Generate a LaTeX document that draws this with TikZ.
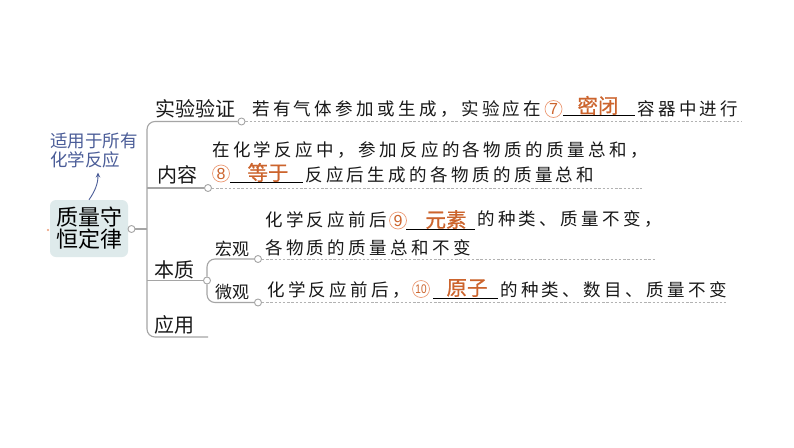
\documentclass[tikz,border=0pt]{standalone}
\usepackage{fontspec}
\setmainfont{Noto Sans CJK SC}
\newfontfamily\cjk{Noto Sans CJK SC}
\newfontfamily\ansfont[FakeBold=0.8]{Noto Sans CJK SC}
\newfontfamily\numfont{Liberation Sans}
\usetikzlibrary{arrows.meta}
\definecolor{linegray}{RGB}{165,165,165}
\definecolor{dashgray}{RGB}{178,178,178}
\definecolor{rootfill}{RGB}{222,234,235}
\definecolor{ans}{RGB}{204,100,45}
\definecolor{numring}{RGB}{236,155,118}
\definecolor{notecol}{RGB}{75,93,152}
\definecolor{txt}{RGB}{25,25,25}
\newlength\lspamt
\setlength\lspamt{3.4pt}
\ExplSyntaxOn
\NewDocumentCommand\lsp{m}{\tl_map_inline:nn{#1}{##1\hskip\lspamt}}
\ExplSyntaxOff
\tikzset{
  solidline/.style={draw=linegray, line width=1.1pt},
  dashline/.style={draw=dashgray, line width=0.9pt, dash pattern=on 2.4pt off 1.8pt},
  knob/.style={circle, draw=linegray, fill=white, line width=0.9pt, inner sep=0pt, minimum size=7pt},
  branchlabel/.style={inner sep=0pt, text=txt, font=\cjk\fontsize{20}{22}\selectfont},
  sublabel/.style={inner sep=0pt, text=txt, font=\cjk\fontsize{17}{20}\selectfont},
  body/.style={anchor=west, inner sep=0pt, text=txt, font=\cjk\fontsize{17.5}{20}\selectfont},
  numc/.style={circle, draw=numring, line width=0.7pt, inner sep=0pt, minimum size=17pt, text=ans, font=\numfont\fontsize{16}{16}\selectfont},
  answer/.style={inner sep=0pt, text=ans, font=\ansfont\fontsize{20.5}{22}\selectfont},
  blank/.style={draw=black, line width=0.9pt},
  rootbox/.style={rectangle, rounded corners=6pt, fill=rootfill, minimum width=78pt, minimum height=57pt, inner sep=0pt, align=center, text=black, font=\cjk\fontsize{22}{22}\selectfont},
  notetext/.style={inner sep=0pt, align=left, text=notecol, font=\cjk\fontsize{17.5}{19.5}\selectfont},
  notearrow/.style={draw=notecol, line width=0.9pt, -{Stealth[length=5pt,width=4.5pt]}},
}
\begin{document}
\begin{tikzpicture}[x=1pt,y=-1pt]
\useasboundingbox (0,0) rectangle (794,447);
\fill[white] (0,0) rectangle (794,447);

% root
\node[rootbox] (root) at (89,228.5) {质量守\\恒定律};
\fill[numring] (48,230) circle (1.1pt);
\node[notetext, anchor=west] (note) at (50,150.5) {适用于所有\\化学反应};
\coordinate (ntip) at (98,172.5);
\draw[notearrow] (root.north) .. controls (95,191) and (98,184) .. (ntip);

% knobs
\node[knob] (kroot) at (131.5,229) {};
\node[knob] (k1) at (241.5,121.5) {};
\node[knob] (k2) at (208,188) {};
\node[knob] (k3) at (207,280.5) {};
\node[knob] (k31) at (258,259) {};
\node[knob] (k32) at (258,302.5) {};

% trunk coordinates
\coordinate (tj) at (147,229);
\coordinate (ttop) at (147,121.5);
\coordinate (tbot) at (147,337);
\coordinate (yend) at (208,337);
\coordinate (t2) at (147,188);
\coordinate (t3) at (147,280.5);
\coordinate (s1) at (207,259);
\coordinate (s2) at (207,302.5);

\draw[solidline] (kroot.east) -- (tj);
\draw[solidline, rounded corners=8pt] (k1.west) -- (ttop) -- (tbot) -- (yend);
\draw[solidline] (t2) -- (k2.west);
\draw[solidline] (t3) -- (k3.west);
\draw[solidline, rounded corners=8pt] (k3.north) -- (s1) -- (k31.west);
\draw[solidline, rounded corners=8pt] (k3.south) -- (s2) -- (k32.west);

% dashed lines
\coordinate (e1) at (742,121.5);
\coordinate (e2) at (642,188);
\coordinate (e31) at (655,259);
\coordinate (e32) at (728,302.5);
\draw[dashline] (k1.east) -- (e1);
\draw[dashline] (k2.east) -- (e2);
\draw[dashline] (k31.east) -- (e31);
\draw[dashline] (k32.east) -- (e32);

% branch labels
\node[branchlabel] (lab1) at (195,109) {实验验证};
\node[branchlabel] (lab2) at (177,175) {内容};
\node[branchlabel] (lab3) at (174,270) {本质};
\node[branchlabel] (lab4) at (174,325) {应用};
\node[sublabel] (lab31) at (232,249) {宏观};
\node[sublabel] (lab32) at (232,292) {微观};

% line 1
\node[body] (a1) at (252,109) {\lsp{若有气体参加或生成，实验应在}};
\node[numc] (n7) at (553.5,109) {7};
\node[answer] (ans7) at (598,105.5) {密闭};
\coordinate (u7a) at (563,115);
\coordinate (u7b) at (635,115);
\draw[blank] (u7a) -- (u7b);
\node[body] (a2) at (637,109) {\lsp{容器中进行}};

% content
\node[body] (b1) at (212,150) {\lsp{在化学反应中，参加反应的各物质的质量总和，}};
\node[numc] (n8) at (221,173.5) {8};
\node[answer] (ans8) at (268,172.5) {等于};
\coordinate (u8a) at (230,182);
\coordinate (u8b) at (303,182);
\draw[blank] (u8a) -- (u8b);
\node[body] (b2) at (305,175) {\lsp{反应后生成的各物质的质量总和}};

% macro
\node[body] (c1) at (265,220) {\lsp{化学反应前后}};
\node[numc] (n9) at (398,220.5) {9};
\node[answer] (ans9) at (446,219.5) {元素};
\coordinate (u9a) at (406,229.5);
\coordinate (u9b) at (475,229.5);
\draw[blank] (u9a) -- (u9b);
\node[body] (c2) at (477,219.5) {\lsp{的种类、质量不变，}};
\node[body] (c3) at (265,247.5) {\lsp{各物质的质量总和不变}};

% micro
\node[body] (d1) at (267,290) {\lsp{化学反应前后，}};
\node[numc, font=\numfont\fontsize{12.5}{12.5}\selectfont] (n10) at (421,289) {\scalebox{0.8}[1]{10}};
\node[answer] (ans10) at (467,288) {原子};
\coordinate (u10a) at (433,298);
\coordinate (u10b) at (498,298);
\draw[blank] (u10a) -- (u10b);
\node[body] (d2) at (500,290) {\lsp{的种类、数目、质量不变}};
\end{tikzpicture}
\end{document}
